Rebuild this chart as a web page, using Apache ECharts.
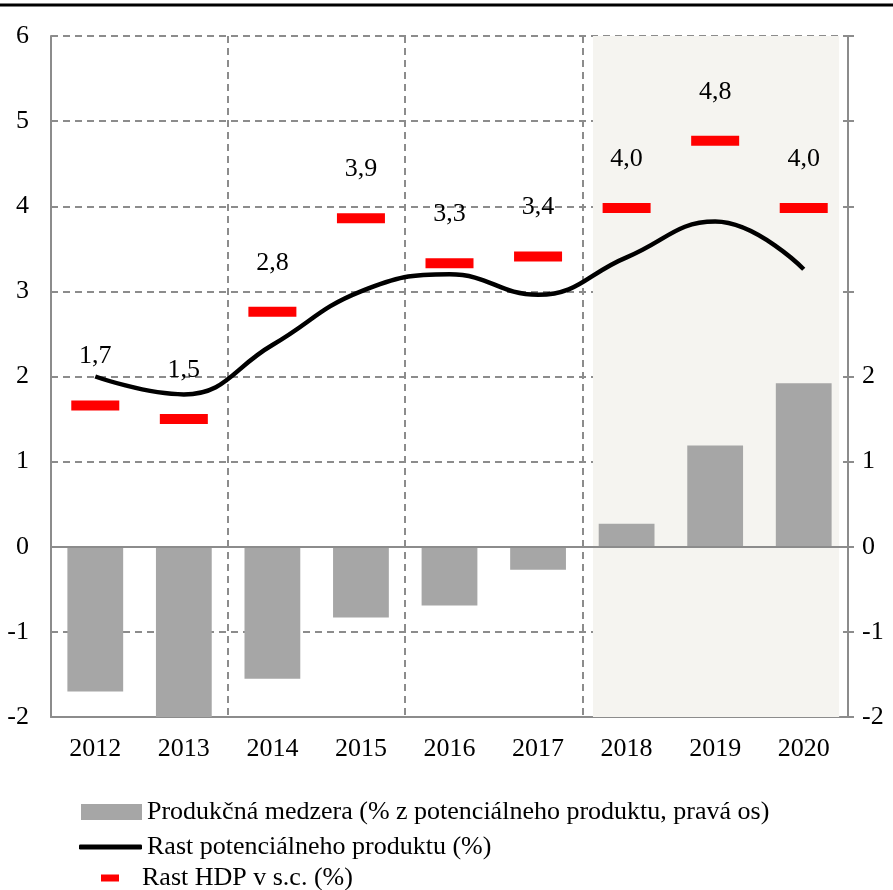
<!DOCTYPE html>
<html>
<head>
<meta charset="utf-8">
<script src="https://cdn.jsdelivr.net/npm/echarts@6/dist/echarts.min.js"></script>
<style>
html,body{margin:0;padding:0;background:#fff;}
#main{width:893px;height:890px;}
</style>
</head>
<body>
<div id="main"></div>
<script>
// Data
const years = ['2012','2013','2014','2015','2016','2017','2018','2019','2020'];
const outputGap = [-1.70, -2.05, -1.55, -0.83, -0.69, -0.27, 0.27, 1.19, 1.92];
const potentialGrowth = [2.0, 1.79, 2.37, 3.0, 3.2, 2.96, 3.40, 3.82, 3.26];
const gdpGrowth = [1.66, 1.50, 2.76, 3.86, 3.33, 3.41, 3.98, 4.77, 3.98];
const rightLabelMax = 2;

const nameGap = 'Produkčná medzera (% z potenciálneho produktu, pravá os)';
const namePot = 'Rast potenciálneho produktu (%)';
const nameGdp = 'Rast HDP v s.c. (%)';

const FONT = '"Liberation Serif", "Times New Roman", serif';
const FS = 26;
const GRID_COLOR = '#8c8c8c';

const chart = echarts.init(document.getElementById('main'), null, {renderer: 'canvas'});

const option = {
  backgroundColor: '#ffffff',
  animation: false,
  textStyle: {fontFamily: FONT},
  grid: {left: 51, right: 45, top: 36, bottom: 173, containLabel: false},
  graphic: [{
    type: 'line', shape: {x1: 0, y1: 5, x2: 893, y2: 5},
    style: {stroke: '#000', lineWidth: 3}
  }],
  legend: [
    {data: [nameGap], left: 76, top: 794, itemWidth: 61, itemHeight: 16, icon: 'rect',
     textStyle: {fontFamily: FONT, fontSize: FS, color: '#000'}},
    {data: [namePot], left: 74, top: 829, itemWidth: 63, itemHeight: 5, icon: 'roundRect',
     textStyle: {fontFamily: FONT, fontSize: FS, color: '#000'}},
    {data: [nameGdp], left: 96, top: 860, itemWidth: 18, itemHeight: 7, icon: 'rect',
     textStyle: {fontFamily: FONT, fontSize: FS, color: '#000', padding: [0,0,0,18]}}
  ],
  xAxis: [{
    type: 'category', data: years, boundaryGap: true, position: 'bottom',
    axisLine: {show: true, onZero: false, lineStyle: {color: GRID_COLOR, width: 2}},
    axisTick: {show: false},
    axisLabel: {fontFamily: FONT, fontSize: FS, color: '#000', margin: 19},
    splitLine: {show: true, interval: 1, lineStyle: {color: GRID_COLOR, type: [7, 5], width: 2}}
  }, {
    type: 'value', min: 0, max: 9, show: false
  }],
  yAxis: [{
    type: 'value', min: -2, max: 6, interval: 1, position: 'left',
    axisLine: {show: true, lineStyle: {color: GRID_COLOR, width: 2}},
    axisTick: {show: false},
    axisLabel: {fontFamily: FONT, fontSize: FS, color: '#000', margin: 22},
    splitLine: {show: true, lineStyle: {color: GRID_COLOR, type: [7, 5], width: 2}}
  }, {
    type: 'value', min: -2, max: 6, interval: 1, position: 'right',
    axisLine: {show: true, lineStyle: {color: GRID_COLOR, width: 2}},
    axisTick: {show: true, inside: false, length: 6, lineStyle: {color: GRID_COLOR, width: 2}},
    axisLabel: {fontFamily: FONT, fontSize: FS, color: '#000', margin: 14,
      formatter: v => (v <= rightLabelMax ? String(v) : '')},
    splitLine: {show: false}
  }],
  series: [
    {
      name: 'shade', type: 'scatter', xAxisIndex: 1, yAxisIndex: 0, data: [], z: -1,
      silent: true,
      markArea: {
        silent: true,
        itemStyle: {color: '#f5f4f0'},
        data: [[{xAxis: 6.12, yAxis: 6.04}, {xAxis: 8.9, yAxis: -2.12}]]
      }
    },
    {
      name: nameGap, type: 'bar', data: outputGap, yAxisIndex: 1, barWidth: '63%',
      itemStyle: {color: '#a6a6a6'}, z: 2,
      markLine: {
        silent: true, symbol: 'none', label: {show: false},
        lineStyle: {color: GRID_COLOR, type: 'solid', width: 2},
        data: [{yAxis: 0}]
      }
    },
    {
      name: namePot, type: 'line', data: potentialGrowth, smooth: 0.45, symbol: 'none',
      lineStyle: {color: '#000', width: 4.5}, itemStyle: {color: '#000'}, z: 4
    },
    {
      name: nameGdp, type: 'scatter', data: gdpGrowth, symbol: 'rect', symbolSize: [48, 10],
      itemStyle: {color: '#ff0000', opacity: 1}, z: 5,
      label: {show: true, position: 'top', distance: 31, fontFamily: FONT, fontSize: FS, color: '#000',
        opacity: 1, formatter: p => p.value.toFixed(1).replace('.', ',')}
    }
  ]
};
chart.setOption(option);
</script>
</body>
</html>
